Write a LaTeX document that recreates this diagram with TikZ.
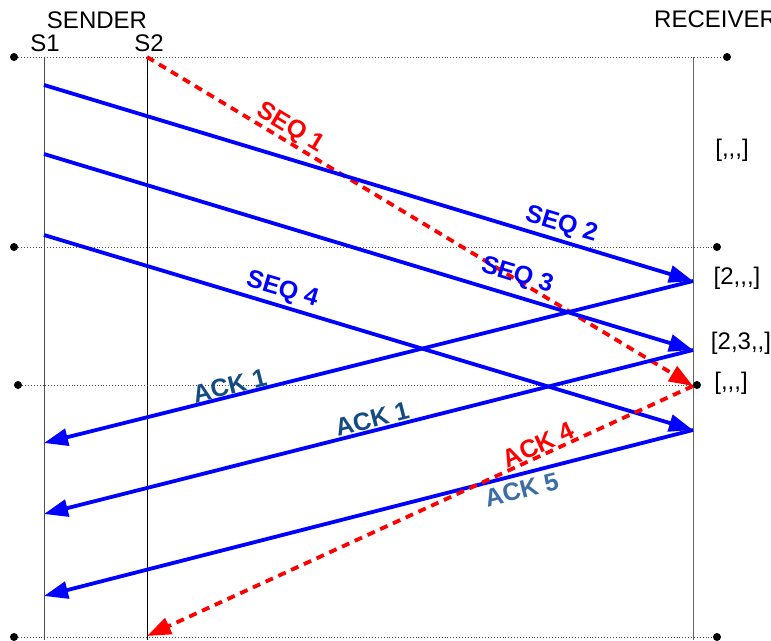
\documentclass[tikz,border=0pt]{standalone}
\usepackage{fontspec}
\setmainfont{Liberation Sans}[Ligatures=TeXOff]
\usetikzlibrary{arrows.meta,positioning}
\definecolor{ackdark}{RGB}{20,75,130}
\definecolor{acklight}{RGB}{60,110,165}

\begin{document}
\begin{tikzpicture}[x=1pt, y=-1pt,
  life/.style={line width=0.9pt},
  grid/.style={dotted, line width=0.9pt, black!70},
  dot/.style={circle, fill=black, inner sep=0pt, minimum size=8pt},
  msg/.style={blue, line width=3.8pt, -{Triangle[length=24pt,width=17pt]}},
  lost/.style={red, line width=3.8pt, dash pattern=on 8pt off 6pt,
    -{Triangle[length=24pt,width=17pt]}},
  lab/.style={font=\fontsize{25}{25}\selectfont\bfseries, inner sep=0pt, sloped},
  txt/.style={font=\fontsize{24}{24}\selectfont, inner sep=0pt}
]
  \useasboundingbox (0,0) rectangle (771,640);
  % lifelines
  \draw[life, black!70] (44,57) -- (44,640);
  \draw[life] (147,57) -- (147,640);
  \draw[life, black!60] (693,57) -- (693,640);
  \node[txt] (sender) at (97,20) {SENDER};
  \node[txt] (s1) at (45,43) {S1};
  \node[txt] (s2) at (149,43) {S2};
  \node[txt, anchor=west] (receiver) at (654,19) {RECEIVER};
  % time marks
  \node[dot] (t1l) at (14,57) {};
  \node[dot] (t1r) at (727,57) {};
  \node[dot] (t2l) at (14,247) {};
  \node[dot] (t2r) at (717,247) {};
  \node[dot] (t3l) at (18,385) {};
  \node[dot] (t3r) at (697,385) {};
  \node[dot] (t4l) at (14,637) {};
  \node[dot] (t4r) at (717,637) {};
  \draw[grid] (t1l) -- (t1r);
  \draw[grid] (t2l) -- (t2r);
  \draw[grid] (t3l) -- (t3r);
  \draw[grid] (t4l) -- (t4r);
  % send and receive points
  \coordinate (seq1) at (147,57);
  \coordinate (seq2) at (44,85);
  \coordinate (seq3) at (44,154);
  \coordinate (seq4) at (44,235);
  \coordinate (r2) at (693,281);
  \coordinate (r3) at (693,350);
  \coordinate (r1) at (693,386);
  \coordinate (r4) at (693,430);
  \coordinate (ack1a) at (44,443);
  \coordinate (ack1b) at (44,514);
  \coordinate (ack5) at (44,596);
  \coordinate (ack4) at (147,636);
  \draw[lost] (seq1) -- node[lab, text=red, pos=0.25, above=0pt] {SEQ 1} (r1);
  \draw[msg] (seq2) -- node[lab, text=blue, pos=0.79, above=2.5pt] {SEQ 2} (r2);
  \draw[msg] (seq3) -- node[lab, text=blue, pos=0.72, above=7pt] {SEQ 3} (r3);
  \draw[msg] (seq4) -- node[lab, text=blue, pos=0.36, above=2.5pt] {SEQ 4} (r4);
  \draw[msg] (r2) -- node[lab, text=ackdark, pos=0.71, above=0pt] {ACK 1} (ack1a);
  \draw[msg] (r3) -- node[lab, text=ackdark, pos=0.49, above=1pt] {ACK 1} (ack1b);
  \draw[msg] (r4) -- node[lab, text=acklight, pos=0.27, below=4.5pt] {ACK 5} (ack5);
  \draw[lost] (r1) -- node[lab, text=red, pos=0.275, above=0pt] {ACK 4} (ack4);
  % receiver buffer
  \node[txt] (buf0) at (732,150) {[,,,]};
  \node[txt] (buf1) at (737,278) {[2,,,]};
  \node[txt] (buf2) at (741,343) {[2,3,,]};
  \node[txt] (buf3) at (731,383) {[,,,]};
\end{tikzpicture}
\end{document}
